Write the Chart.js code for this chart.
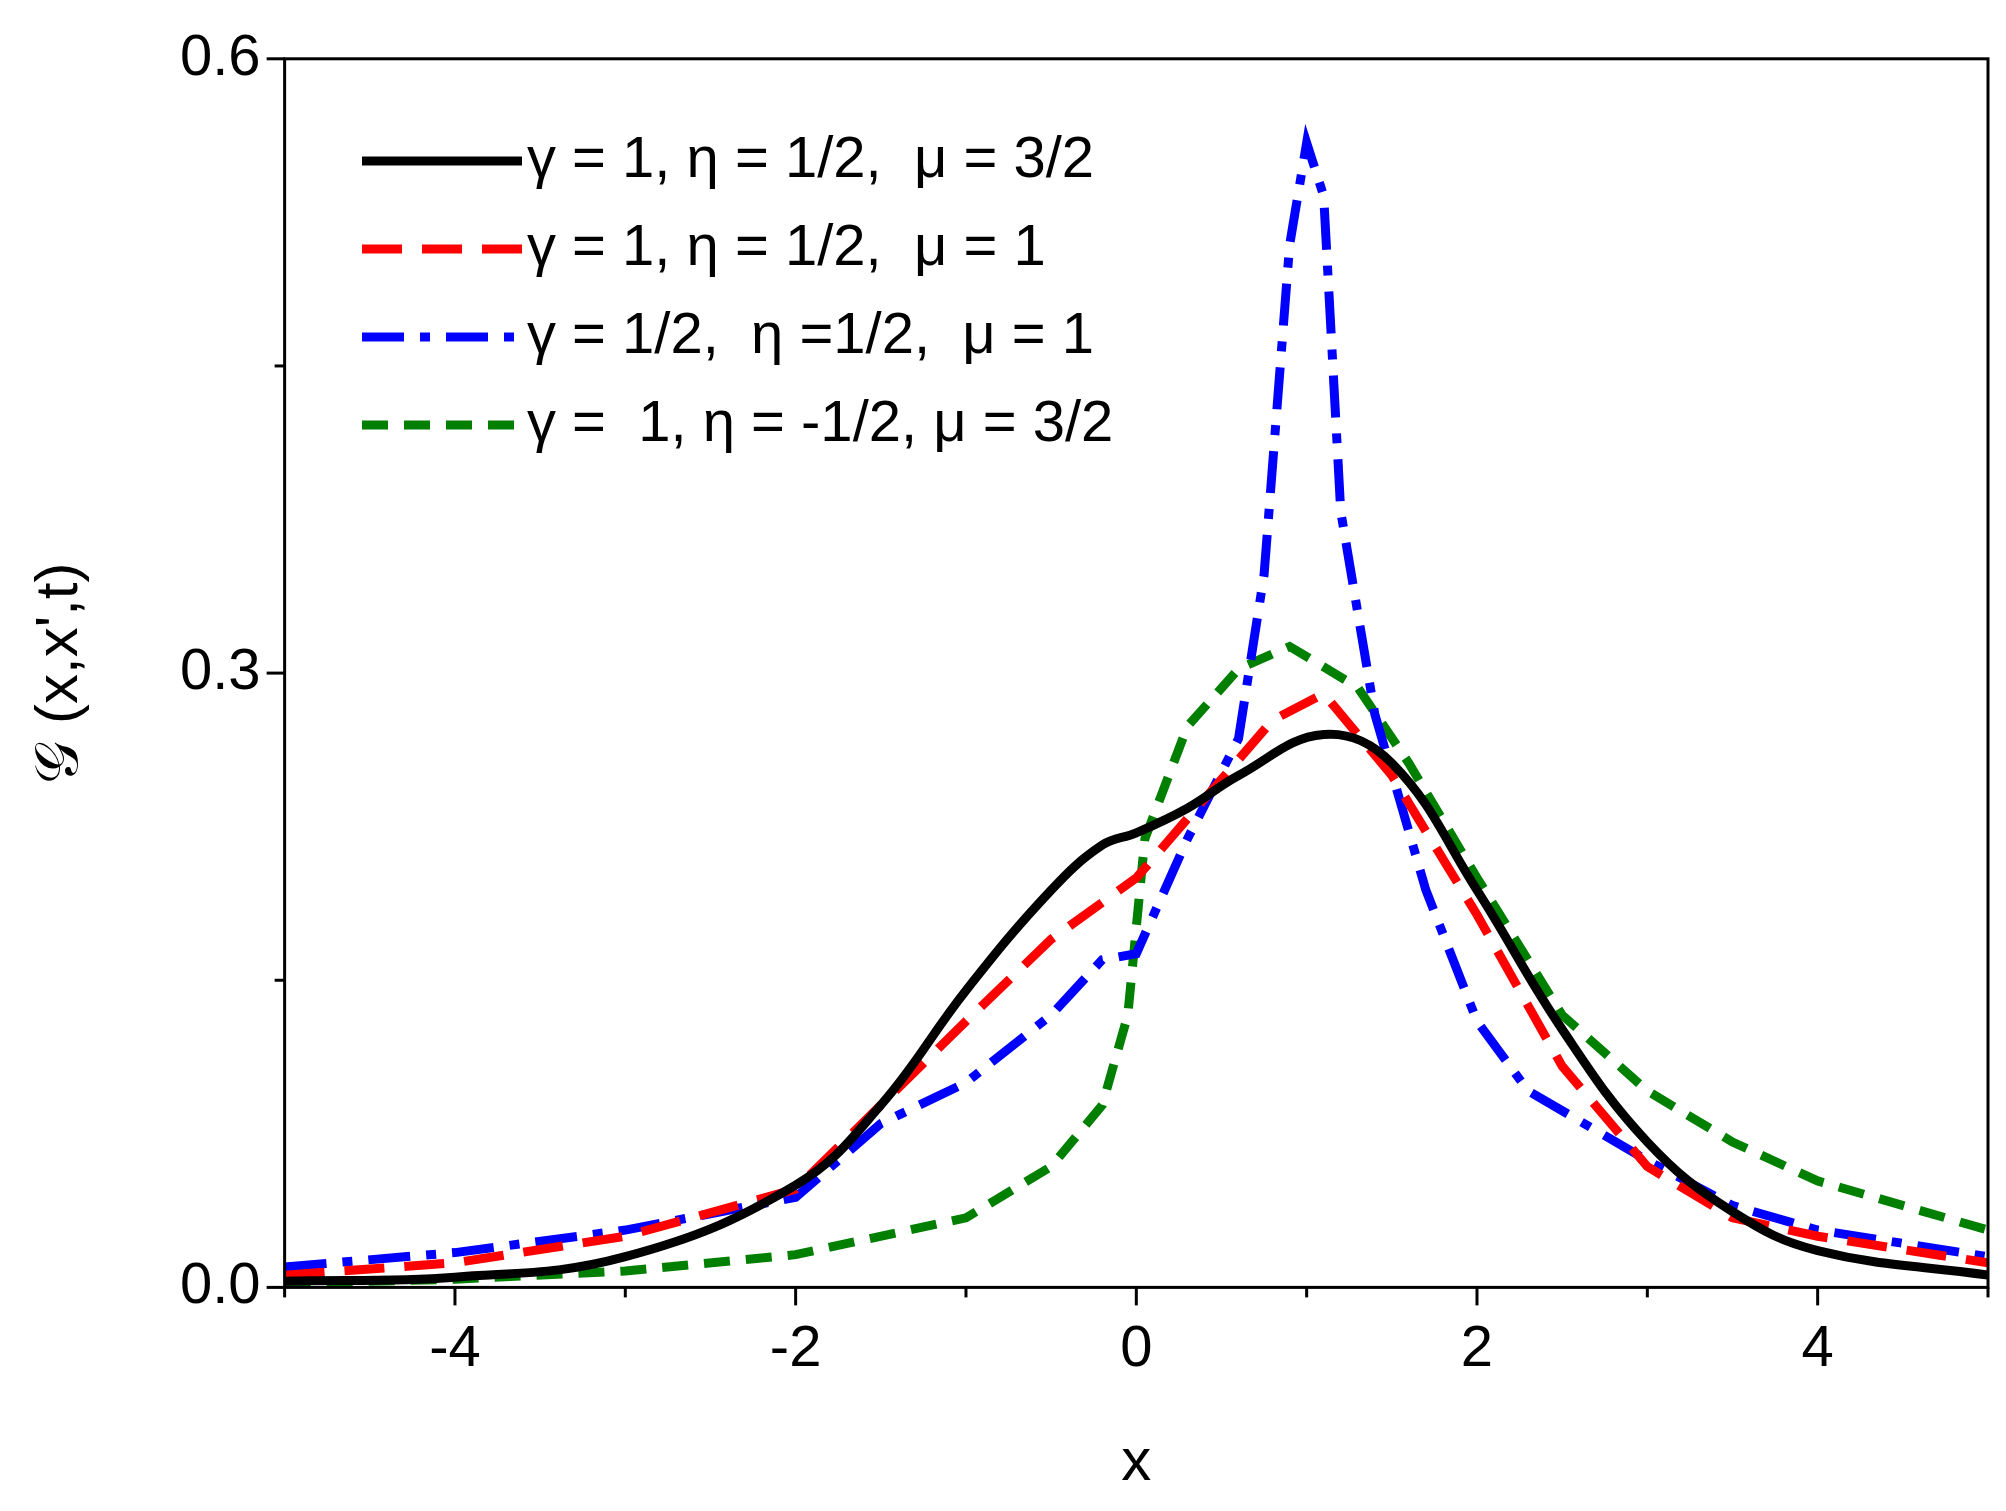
<!DOCTYPE html>
<html><head><meta charset="utf-8">
<script src="https://cdn.jsdelivr.net/npm/chart.js@4"></script>
<style>html,body{margin:0;padding:0;background:#fff}#w{width:2006px;height:1511px}</style>
</head><body><div id="w"><canvas id="c"></canvas></div>
<script>
const blackX=[-5,-4,-3,-2,-1.5,-1,-0.5,-0.2,0,0.3,0.6,1.1,1.5,2,2.5,3,3.5,4,5];
const blackY=[0.003,0.005,0.015,0.05,0.089,0.145,0.194,0.216,0.222,0.234,0.25,0.27,0.256,0.194,0.126,0.071,0.037,0.018,0.006];
const redX=[-5,-4,-3,-2,-1,-0.5,0,0.8,1.1,1.5,2,2.5,3,3.5,4,5];
const redY=[0.006,0.012,0.025,0.048,0.13,0.17,0.2,0.277,0.29,0.25,0.182,0.108,0.059,0.034,0.025,0.012];
const blueX=[-5,-4,-3,-2,-1.5,-1,-0.5,-0.2,0,0.3,0.6,0.75,0.9,1.0,1.1,1.2,1.4,1.7,2,2.3,3,3.5,4,5];
const blueY=[0.01,0.017,0.028,0.044,0.08,0.1,0.133,0.16,0.163,0.219,0.268,0.348,0.509,0.559,0.533,0.379,0.28,0.194,0.13,0.096,0.062,0.04,0.028,0.015];
const greenX=[-5,-4,-3,-2,-1,-0.5,-0.2,-0.05,0.05,0.3,0.6,0.9,1.3,1.6,2,2.5,3,3.5,4,5];
const greenY=[0.002,0.004,0.008,0.016,0.034,0.059,0.089,0.133,0.219,0.274,0.302,0.313,0.293,0.256,0.2,0.133,0.096,0.071,0.052,0.028];
const labels=["γ = 1, η = 1/2,  μ = 3/2","γ = 1, η = 1/2,  μ = 1","γ = 1/2,  η =1/2,  μ = 1","γ =  1, η = -1/2, μ = 3/2"];
const xMajor=[-4,-2,0,2,4], yMajor=[0,0.3,0.6];
const pts=(xs,ys)=>xs.map((x,i)=>({x,y:ys[i]}));
const F='"Liberation Sans", Arial, sans-serif';
const mk=(l,xs,ys,c,d,t)=>({label:l,data:pts(xs,ys),borderColor:c,borderWidth:9,borderDash:d,pointRadius:0,tension:t,fill:false});
const deco={id:'deco',afterDraw(ch){
 const c=ch.ctx,a=ch.chartArea,xs=ch.scales.x,ys=ch.scales.y;
 c.save();c.strokeStyle='#000';c.lineWidth=3;c.strokeRect(a.left,a.top,a.right-a.left,a.bottom-a.top);
 for(let v=-5;v<=5;v++){const p=xs.getPixelForValue(v);const L=v%2===0?18:10;c.beginPath();c.moveTo(p,a.bottom);c.lineTo(p,a.bottom+L);c.stroke();}
 for(let k=0;k<=4;k++){const v=k*0.15;const p=ys.getPixelForValue(v);const L=k%2===0?18:10;c.beginPath();c.moveTo(a.left,p);c.lineTo(a.left-L,p);c.stroke();}
 c.font='58px '+F;c.fillStyle='#000';c.textBaseline='middle';
 ch.data.datasets.forEach((d,i)=>{const y=161+i*88;c.strokeStyle=d.borderColor;c.lineWidth=9;c.setLineDash(d.borderDash||[]);c.beginPath();c.moveTo(362,y);c.lineTo(522,y);c.stroke();c.setLineDash([]);c.fillText(d.label,527,y);});
 c.restore();}};
new Chart(document.getElementById('c'),{type:'line',
data:{datasets:[mk(labels[0],blackX,blackY,'#000',[],0.4),mk(labels[1],redX,redY,'#ff0000',[40,20],0),mk(labels[2],blueX,blueY,'#0000ff',[42,16,10,16],0),mk(labels[3],greenX,greenY,'#007f00',[26,16],0)]},
options:{responsive:true,maintainAspectRatio:false,animation:false,
layout:{padding:{left:20,right:18,top:24,bottom:8}},
plugins:{legend:{display:false},tooltip:{enabled:false}},
scales:{
x:{type:'linear',min:-5,max:5,afterBuildTicks:s=>{s.ticks=xMajor.map(v=>({value:v}));},
 grid:{drawOnChartArea:false,drawTicks:false},border:{display:false},
 ticks:{padding:28,font:{size:58,family:F},color:'#000',callback:v=>String(v)},
 title:{display:true,text:'x',font:{size:60,family:F},color:'#000',padding:{top:14}}},
y:{min:0,max:0.6,afterBuildTicks:s=>{s.ticks=yMajor.map(v=>({value:v}));},
 grid:{drawOnChartArea:false,drawTicks:false},border:{display:false},
 ticks:{padding:24,font:{size:58,family:F},color:'#000',callback:v=>v.toFixed(1)},
 title:{display:true,text:'𝒢 (x,x\',t)',font:{size:60,family:F},color:'#000',padding:{bottom:60}}}}},
plugins:[deco]});
</script></body></html>
